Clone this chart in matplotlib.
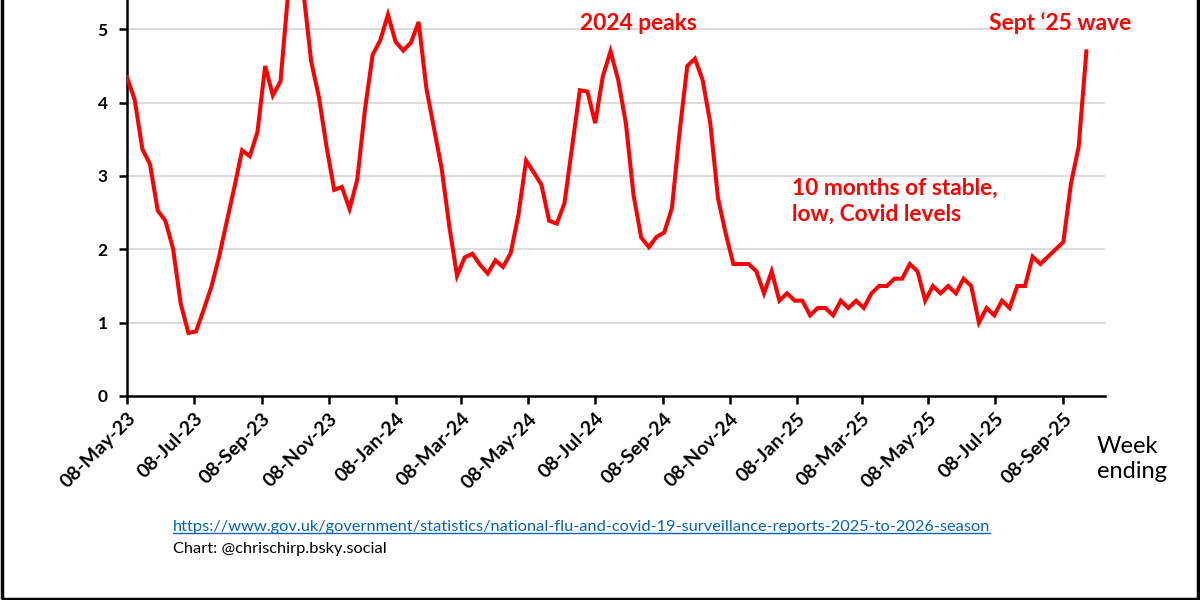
import matplotlib
matplotlib.use("Agg")
import matplotlib.pyplot as plt
import pandas as pd
from matplotlib.patches import Rectangle
from matplotlib.lines import Line2D

plt.rcParams['font.family'] = ['Lato', 'DejaVu Sans']

start_date = "2023-05-08"
values = [
    4.35, 4.04, 3.37, 3.16, 2.53, 2.39, 2.01, 1.26, 0.86, 0.88,
    1.18, 1.49, 1.90, 2.38, 2.85, 3.35, 3.27, 3.60, 4.50, 4.10,
    4.29, 5.50, 5.90, 5.50, 4.56, 4.08, 3.40, 2.81, 2.85, 2.55,
    2.95, 3.90, 4.65, 4.85, 5.20, 4.83, 4.71, 4.82, 5.10, 4.20,
    3.65, 3.10, 2.31, 1.64, 1.89, 1.94, 1.79, 1.67, 1.85, 1.76,
    1.95, 2.47, 3.21, 3.05, 2.88, 2.39, 2.35, 2.63, 3.40, 4.17,
    4.15, 3.72, 4.36, 4.70, 4.31, 3.72, 2.74, 2.16, 2.03, 2.17,
    2.23, 2.56, 3.60, 4.50, 4.60, 4.31, 3.72, 2.70, 2.22, 1.80,
    1.80, 1.80, 1.70, 1.40, 1.70, 1.30, 1.40, 1.30, 1.30, 1.10,
    1.20, 1.20, 1.10, 1.30, 1.20, 1.30, 1.20, 1.40, 1.50, 1.50,
    1.60, 1.60, 1.80, 1.70, 1.30, 1.50, 1.40, 1.50, 1.40, 1.60,
    1.50, 1.00, 1.20, 1.10, 1.30, 1.20, 1.50, 1.50, 1.90, 1.80,
    1.90, 2.00, 2.10, 2.90, 3.40, 4.70,
]
dates = pd.date_range(start_date, periods=len(values), freq="7D")

tick_dates = pd.to_datetime([
    "2023-05-08", "2023-07-08", "2023-09-08", "2023-11-08", "2024-01-08",
    "2024-03-08", "2024-05-08", "2024-07-08", "2024-09-08", "2024-11-08",
    "2025-01-08", "2025-03-08", "2025-05-08", "2025-07-08", "2025-09-08",
])
tick_labels = [
    "08-May-23", "08-Jul-23", "08-Sep-23", "08-Nov-23", "08-Jan-24",
    "08-Mar-24", "08-May-24", "08-Jul-24", "08-Sep-24", "08-Nov-24",
    "08-Jan-25", "08-Mar-25", "08-May-25", "08-Jul-25", "08-Sep-25",
]
y_ticks = [0, 1, 2, 3, 4, 5]

fig = plt.figure(figsize=(12, 6), dpi=100)
ax = fig.add_axes([127/1200, 1 - 396/600, (1105 - 127)/1200, 396/600])

ax.plot(dates, values, color="#FF0000", linewidth=2.9, solid_joinstyle="miter", zorder=3)

ax.set_ylim(0, 5.4)
ax.set_xlim(pd.Timestamp("2023-05-08"), pd.Timestamp("2025-10-16"))
ax.set_yticks(y_ticks)
ax.set_yticklabels([str(v) for v in y_ticks], fontweight="bold", fontsize=12.5)
ax.set_xticks(tick_dates)
ax.set_xticklabels(tick_labels, rotation=45, ha="right", rotation_mode="anchor",
                   fontweight="bold", fontsize=14)

for y in y_ticks[1:]:
    ax.axhline(y, color="#d9d9d9", linewidth=1.3, zorder=1)

for s in ["top", "right"]:
    ax.spines[s].set_visible(False)
for s in ["left", "bottom"]:
    ax.spines[s].set_linewidth(1.8)
    ax.spines[s].set_color("black")
ax.tick_params(axis="both", direction="out", length=6, width=1.8, color="black", pad=4)
ax.tick_params(axis="y", pad=8)

# annotations
tc = "#FF0000"
fig.text(638/1200, 1 - 23/600, "2024 peaks", color=tc, fontsize=16.4, fontweight="bold",
         ha="center", va="center")
fig.text(1060/1200, 1 - 23/600, "Sept \u201825 wave", color=tc, fontsize=16.4, fontweight="bold",
         ha="center", va="center")
fig.text(792/1200, 1 - 178/600, "10 months of stable,\nlow, Covid levels", color=tc,
         fontsize=16.4, fontweight="bold", ha="left", va="top", linespacing=1.3)

fig.text(1097/1200, 1 - 459/600, "Week\nending", color="black", fontsize=17,
         ha="left", va="center", linespacing=1.2)

link = fig.text(173/1200, 1 - 527/600,
                "https://www.gov.uk/government/statistics/national-flu-and-covid-19-surveillance-reports-2025-to-2026-season",
                color="#0563C1", fontsize=11.8, ha="left", va="center")
fig.text(173/1200, 1 - 549/600, "Chart: @chrischirp.bsky.social", color="black",
         fontsize=11.8, ha="left", va="center")

fig.canvas.draw()
bb = link.get_window_extent(renderer=fig.canvas.get_renderer())
uy = (bb.y0 + 1) / 600
fig.add_artist(Line2D([bb.x0/1200, bb.x1/1200], [uy, uy], color="#0563C1", linewidth=1.0))

# frame (top edge cropped off)
fig.add_artist(Rectangle((1.5/1200, 1.5/600), 1 - 4/1200, 1.2, transform=fig.transFigure,
                         fill=False, edgecolor="black", linewidth=2.5, clip_on=False))

fig.savefig("out.png", dpi=100)
